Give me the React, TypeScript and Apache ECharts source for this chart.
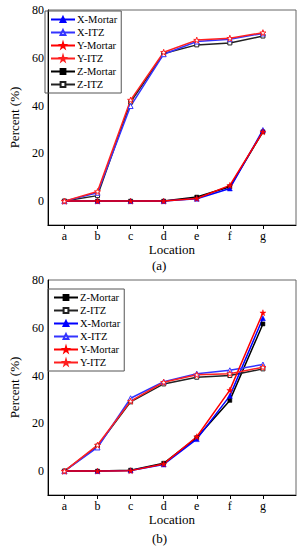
import React, { useEffect, useRef } from "react";
import * as echarts from "echarts";

const categories = ["a", "b", "c", "d", "e", "f", "g"];
const yTicks = [0, 20, 40, 60, 80];

// Chart (a)
const xMortarA = [0, 0, 0, 0, 1.0, 5.3, 29.8];
const xItzA = [0, 3.5, 39.8, 61.5, 66.8, 67.8, 70.2];
const yMortarA = [0, 0, 0, 0, 1.1, 6.6, 29.0];
const yItzA = [0, 4.0, 42.3, 62.3, 67.4, 68.2, 70.5];
const zMortarA = [0, 0, 0, 0, 1.7, 6.0, 29.0];
const zItzA = [0, 2.3, 41.5, 61.8, 65.4, 66.2, 69.1];

// Chart (b)
const zMortarB = [0, 0, 0.4, 3.3, 14.0, 29.6, 61.6];
const zItzB = [0, 10.5, 29.0, 36.5, 39.3, 40.0, 42.8];
const xMortarB = [0, 0, 0.3, 2.8, 13.4, 31.5, 64.0];
const xItzB = [0, 9.9, 30.5, 37.4, 40.8, 42.2, 44.6];
const yMortarB = [0, 0, 0.2, 3.0, 14.4, 33.9, 66.3];
const yItzB = [0, 10.9, 29.3, 37.2, 40.3, 40.8, 43.5];

const legendA = ["X-Mortar", "X-ITZ", "Y-Mortar", "Y-ITZ", "Z-Mortar", "Z-ITZ"];
const legendB = ["Z-Mortar", "Z-ITZ", "X-Mortar", "X-ITZ", "Y-Mortar", "Y-ITZ"];

const STAR =
  "path://M50,0 L61,35 L98,35 L68,57 L79,91 L50,70 L21,91 L32,57 L2,35 L39,35 Z";
const FONT = "'Liberation Serif', 'Times New Roman', serif";

const styleOf: Record<string, { c: string; sym: string; size: number; empty: boolean }> = {
  "X-Mortar": { c: "#0000ff", sym: "triangle", size: 5, empty: false },
  "X-ITZ": { c: "#3333ff", sym: "triangle", size: 5, empty: true },
  "Y-Mortar": { c: "#ff0000", sym: STAR, size: 6, empty: false },
  "Y-ITZ": { c: "#ff2020", sym: STAR, size: 6, empty: true },
  "Z-Mortar": { c: "#000000", sym: "rect", size: 4, empty: false },
  "Z-ITZ": { c: "#222222", sym: "rect", size: 4, empty: true },
};

function mk(name: string, vals: number[], idx: number) {
  const s = styleOf[name];
  return {
    type: "line",
    name,
    xAxisIndex: idx,
    yAxisIndex: idx,
    data: vals.map((v, i) => [i, v]),
    symbol: s.sym,
    symbolSize: s.size,
    showAllSymbol: true,
    lineStyle: { color: s.c, width: 1.5 },
    itemStyle: s.empty
      ? { color: "#ffffff", borderColor: s.c, borderWidth: 1 }
      : { color: s.c, borderColor: s.c, borderWidth: 0.5 },
  };
}

export default function App() {
  const ref = useRef<HTMLDivElement>(null);
  useEffect(() => {
    if (!ref.current) return;
    const chart = echarts.init(ref.current, null, { renderer: "svg" });
    const xAxis = (gi: number) => ({
      type: "value",
      gridIndex: gi,
      min: -0.5,
      max: 7,
      name: "Location",
      nameLocation: "middle",
      nameGap: 16,
      nameTextStyle: { fontFamily: FONT, fontSize: 13, color: "#000" },
      axisLine: { show: true, onZero: false, lineStyle: { color: "#000", width: 1 } },
      axisTick: { show: true, inside: false, length: 4, customValues: [0, 1, 2, 3, 4, 5, 6], lineStyle: { color: "#000" } },
      axisLabel: {
        customValues: [0, 1, 2, 3, 4, 5, 6],
        formatter: (v: number) => categories[Math.round(v)] ?? "",
        margin: 5,
        fontFamily: FONT,
        fontSize: 12,
        color: "#000",
      },
      splitLine: { show: false },
    });
    const yAxis = (gi: number) => ({
      type: "value",
      gridIndex: gi,
      min: -10,
      max: 80,
      name: "Percent (%)",
      nameLocation: "middle",
      nameGap: 20,
      nameTextStyle: { fontFamily: FONT, fontSize: 13, color: "#000" },
      axisLine: { show: true, onZero: false, lineStyle: { color: "#000", width: 1 } },
      axisTick: { show: false, customValues: yTicks },
      axisLabel: {
        customValues: yTicks,
        margin: 4,
        fontFamily: FONT,
        fontSize: 12,
        color: "#000",
      },
      splitLine: { show: false },
    });
    const legend = (names: string[], left: number, top: number) => ({
      data: names,
      orient: "vertical",
      left,
      top,
      itemWidth: 24,
      itemHeight: 6,
      itemGap: 2,
      padding: [3, 4, 3, 5],
      borderColor: "#555",
      borderWidth: 1,
      selectedMode: false,
      textStyle: { fontFamily: FONT, fontSize: 10.5, color: "#000", padding: [0, 0, 0, -3] },
    });
    chart.setOption({
      animation: false,
      backgroundColor: "#fff",
      grid: [
        { left: 38, top: 10, width: 258, height: 215, show: true, borderColor: "#666", borderWidth: 1 },
        { left: 38, top: 280, width: 258, height: 215, show: true, borderColor: "#666", borderWidth: 1 },
      ],
      xAxis: [xAxis(0), xAxis(1)],
      yAxis: [yAxis(0), yAxis(1)],
      legend: [legend(legendA, 45, 11), legend(legendB, 48, 289)],
      series: [
        mk("Z-Mortar", zMortarA, 0),
        mk("Z-ITZ", zItzA, 0),
        mk("X-Mortar", xMortarA, 0),
        mk("X-ITZ", xItzA, 0),
        mk("Y-Mortar", yMortarA, 0),
        mk("Y-ITZ", yItzA, 0),
        mk("Z-Mortar", zMortarB, 1),
        mk("Z-ITZ", zItzB, 1),
        mk("X-Mortar", xMortarB, 1),
        mk("X-ITZ", xItzB, 1),
        mk("Y-Mortar", yMortarB, 1),
        mk("Y-ITZ", yItzB, 1),
      ],
      graphic: [
        { type: "text", left: 152, top: 259, style: { text: "(a)", font: `13px ${FONT}`, fill: "#000" } },
        { type: "text", left: 152, top: 532, style: { text: "(b)", font: `13px ${FONT}`, fill: "#000" } },
      ],
    });
    return () => chart.dispose();
  }, []);
  return (
    <div
      ref={ref}
      style={{ position: "absolute", left: 0, top: 0, width: 304, height: 550 }}
    />
  );
}
